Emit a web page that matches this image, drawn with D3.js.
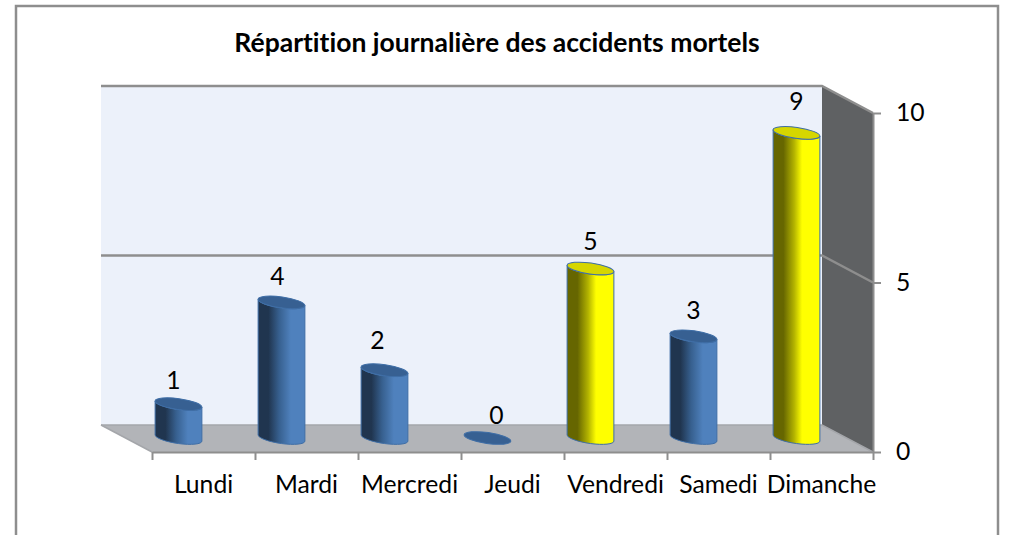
<!DOCTYPE html>
<html>
<head>
<meta charset="utf-8">
<script src="https://cdn.jsdelivr.net/npm/d3@7"></script>
<style>
  html, body { margin: 0; background: #fff; overflow: hidden; }
  text { font-family: Lato, "Open Sans", sans-serif; fill: #000; font-variant-ligatures: none; }
  .axis path, .axis line { stroke: #8e8e8e; stroke-width: 2; }
  .axis text { font-size: 24.7px; }
</style>
</head>
<body>
<div id="chart"></div>
<script>
var days = ["Lundi", "Mardi", "Mercredi", "Jeudi", "Vendredi", "Samedi", "Dimanche"];
var accidents = [1, 4, 2, 0, 5, 3, 9];
var highlighted = ["Vendredi", "Dimanche"];
var yTicks = [0, 5, 10];

var width = 1020, height = 535;

// front edge of the 3d box, the back wall sits up and left of it
var front = { left: 152, right: 873, top: 113, bottom: 452 };
var depth = { x: -51, y: -27 };

var x = d3.scaleBand().domain(days).range([front.left, front.right]);
var edge = d3.scaleLinear().domain([0, days.length]).range([front.left, front.right]);
var y = d3.scaleLinear().domain([0, 10]).range([front.bottom, front.top]);

// the value labels do not follow the bars exactly in the original
var labelY = d3.scaleLinear().domain([0, 9]).range([415.5, 101.5]);
var labelDx = { Lundi: -5, Mardi: -4, Mercredi: -7, Jeudi: 9, Vendredi: 0, Samedi: 0, Dimanche: 0 };
var labelDy = { Mercredi: -5 };

var svg = d3.select("#chart").append("svg")
    .attr("width", width)
    .attr("height", height)
    .style("display", "block");

var defs = svg.append("defs");

function sideGradient(id, dark, mid, light, stop) {
  var g = defs.append("linearGradient").attr("id", id);
  g.append("stop").attr("offset", "0%").attr("stop-color", dark);
  g.append("stop").attr("offset", "22%").attr("stop-color", dark);
  g.append("stop").attr("offset", "45%").attr("stop-color", mid);
  g.append("stop").attr("offset", stop).attr("stop-color", light);
  g.append("stop").attr("offset", "100%").attr("stop-color", light);
}
sideGradient("blueSide", "#20354f", "#37608f", "#4f81bd", "70%");
sideGradient("yellowSide", "#666600", "#b3b300", "#ffff00", "62%");

// outer frame, runs off the bottom of the picture
svg.append("path")
    .attr("d", "M16," + height + "V6H998V" + height)
    .attr("fill", "none")
    .attr("stroke", "#8e8e8e")
    .attr("stroke-width", 2.5);

svg.append("text")
    .attr("x", 497)
    .attr("y", 52)
    .attr("text-anchor", "middle")
    .style("font-size", "26.5px")
    .style("font-weight", "700")
    .text("Répartition journalière des accidents mortels");

var fl = front.left, fr = front.right, ft = front.top, fb = front.bottom;
var bl = fl + depth.x, br = fr + depth.x, bt = ft + depth.y, bb = fb + depth.y;

// walls and floor
svg.append("rect")
    .attr("x", bl).attr("y", bt)
    .attr("width", br - bl).attr("height", bb - bt)
    .attr("fill", "#ecf1fa");
svg.append("path")
    .attr("d", "M" + bl + "," + bb + "L" + br + "," + bb + "L" + fr + "," + fb + "L" + fl + "," + fb + "Z")
    .attr("fill", "#b2b4b8");
svg.append("path")
    .attr("d", "M" + br + "," + bt + "L" + fr + "," + ft + "L" + fr + "," + fb + "L" + br + "," + bb + "Z")
    .attr("fill", "#5f6163");

// gridlines wrap round the back wall and the right wall
yTicks.forEach(function(t) {
  var yf = y(t);
  var yb = yf + depth.y;
  svg.append("path")
      .attr("d", "M" + bl + "," + yb + "L" + br + "," + yb + "L" + fr + "," + yf)
      .attr("fill", "none")
      .attr("stroke", t === 0 ? "#a4a6aa" : "#8e8e8e")
      .attr("stroke-width", t === 0 ? 1.5 : 2.5);
  if (t === 0) {
    svg.append("path")
        .attr("d", "M" + bl + "," + yb + "L" + fl + "," + yf)
        .attr("fill", "none")
        .attr("stroke", "#a4a6aa")
        .attr("stroke-width", 1.5);
  }
});

// cylinders stand half way into the box
var rx = 23.6, ry = 5.5, tilt = 8;
var rad = tilt * Math.PI / 180;
var halfW = Math.sqrt(rx * rx * Math.cos(rad) * Math.cos(rad) + ry * ry * Math.sin(rad) * Math.sin(rad));
var dropY = (rx * rx - ry * ry) * Math.sin(rad) * Math.cos(rad) / halfW;
var midX = depth.x / 2 + 0.5, midY = depth.y / 2 - 0.5;

function cx(d) { return x(d.day) + x.bandwidth() / 2 + midX; }
function isHigh(d) { return highlighted.indexOf(d.day) >= 0; }

var rows = days.map(function(day, i) { return { day: day, value: accidents[i] }; });

var bars = svg.selectAll(".bar")
  .data(rows)
  .enter().append("g")
    .attr("class", "bar");

bars.filter(function(d) { return d.value > 0; })
  .append("path")
    .attr("d", function(d) {
      var c = cx(d), top = y(d.value) + midY, base = y(0) + midY;
      return "M" + (c - halfW) + "," + (top - dropY) +
        "L" + (c - halfW) + "," + (base - dropY) +
        "A" + rx + "," + ry + " " + tilt + " 0 0 " + (c + halfW) + "," + (base + dropY) +
        "L" + (c + halfW) + "," + (top + dropY) +
        "A" + rx + "," + ry + " " + tilt + " 0 1 " + (c - halfW) + "," + (top - dropY) + "Z";
    })
    .attr("fill", function(d) { return isHigh(d) ? "url(#yellowSide)" : "url(#blueSide)"; })
    .attr("stroke", "#3f6ea6")
    .attr("stroke-width", 1);

bars.append("ellipse")
    .attr("rx", rx)
    .attr("ry", ry)
    .attr("transform", function(d) {
      return "translate(" + cx(d) + "," + (y(d.value) + midY) + ") rotate(" + tilt + ")";
    })
    .attr("fill", function(d) { return isHigh(d) ? "#d6d600" : "#376092"; })
    .attr("stroke", "#3f6ea6")
    .attr("stroke-width", 1);

bars.append("text")
    .attr("x", function(d) { return cx(d) + labelDx[d.day]; })
    .attr("y", function(d) { return labelY(d.value) + (labelDy[d.day] || 0); })
    .attr("dy", "0.35em")
    .attr("text-anchor", "middle")
    .style("font-size", "24.7px")
    .text(function(d) { return d.value; });

// axes
var bottomLabels = svg.append("g")
    .attr("class", "axis")
    .attr("transform", "translate(0," + fb + ")")
    .call(d3.axisBottom(x).tickSize(0).tickPadding(23));
bottomLabels.select(".domain").remove();

svg.append("g")
    .attr("class", "axis")
    .attr("transform", "translate(0," + fb + ")")
    .call(d3.axisBottom(edge)
      .tickValues(d3.range(days.length + 1))
      .tickFormat("")
      .tickSizeOuter(0)
      .tickSizeInner(8));

svg.append("g")
    .attr("class", "axis")
    .attr("transform", "translate(" + fr + ",0)")
    .call(d3.axisRight(y)
      .tickValues(yTicks)
      .tickFormat(d3.format("d"))
      .tickSizeOuter(0)
      .tickSizeInner(8)
      .tickPadding(15));
</script>
</body>
</html>
